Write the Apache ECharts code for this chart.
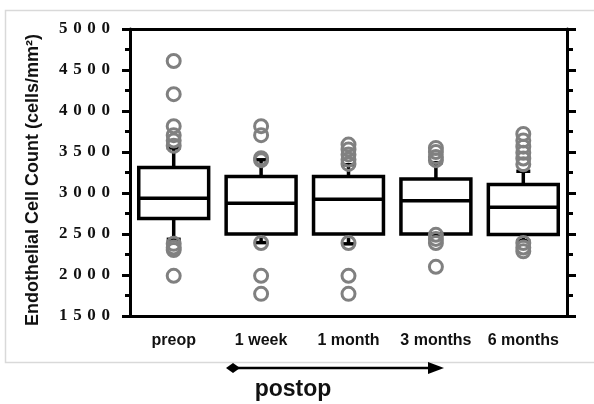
<!DOCTYPE html>
<html>
<head>
<meta charset="utf-8">
<script src="https://cdn.jsdelivr.net/npm/echarts@6/dist/echarts.min.js"></script>
<style>
  html, body { margin: 0; padding: 0; background: #fff; }
  #chart { width: 594px; height: 404px; }
</style>
</head>
<body>
<div id="chart"></div>
<script>
// Time points of the follow-up
const categories = ['preop', '1 week', '1 month', '3 months', '6 months'];

// Box-and-whisker summary per time point (cells/mm²)
const lowerWhisker = [2435, 2395, 2380, 2500, 2420];
const q1 = [2690, 2500, 2500, 2500, 2495];
const median = [2935, 2875, 2925, 2905, 2825];
const q3 = [3310, 3200, 3200, 3170, 3105];
const upperWhisker = [3550, 3405, 3345, 3370, 3265];

// Individual outlying measurements per time point
const outliersPreop = [4610, 4205, 3815, 3705, 3640, 3575, 2380, 2335, 2305, 1990];
const outliers1Week = [3815, 3705, 3425, 3400, 2390, 1990, 1770];
const outliers1Month = [3590, 3530, 3470, 3410, 3355, 2390, 1990, 1770];
const outliers3Months = [3550, 3500, 3440, 3400, 2490, 2440, 2390, 2100];
const outliers6Months = [3720, 3640, 3565, 3490, 3420, 3350, 2390, 2335, 2290];

// Value axis ticks
const yMin = 1500;
const yMax = 5000;
const yStep = 500;

const outlierSets = [outliersPreop, outliers1Week, outliers1Month, outliers3Months, outliers6Months];

const boxData = categories.map((c, i) => [i, lowerWhisker[i], q1[i], median[i], q3[i], upperWhisker[i]]);
const outlierData = [];
outlierSets.forEach((set, i) => set.forEach(v => outlierData.push([i, v])));

// Tick numbers are set with wide letter spacing
const spaced = v => String(v).split('').join('\u2004');

const chart = echarts.init(document.getElementById('chart'), null, { renderer: 'canvas' });

const lineStyle = { stroke: '#000', lineWidth: 3.5 };

chart.setOption({
  animation: false,
  backgroundColor: '#fff',
  grid: { left: 130, right: 27, top: 29, bottom: 88 },
  xAxis: [
    {
      type: 'category',
      data: categories,
      position: 'bottom',
      axisLine: { lineStyle: { color: '#000', width: 3 } },
      axisTick: { alignWithLabel: true, length: 5, lineStyle: { color: '#000', width: 3 } },
      axisLabel: { interval: 0, color: '#111', fontFamily: 'Liberation Sans, Arial, sans-serif', fontWeight: 'bold', fontSize: 16, margin: 17 },
      splitLine: { show: false }
    },
    {
      type: 'category',
      data: categories,
      position: 'top',
      axisLine: { lineStyle: { color: '#000', width: 3 } },
      axisTick: { alignWithLabel: true, length: 5, lineStyle: { color: '#000', width: 3 } },
      axisLabel: { show: false },
      splitLine: { show: false }
    }
  ],
  yAxis: [
    {
      type: 'value',
      min: yMin, max: yMax, interval: yStep,
      position: 'left',
      name: 'Endothelial Cell Count (cells/mm²)',
      nameLocation: 'middle',
      nameGap: 88,
      nameTextStyle: { color: '#111', fontFamily: 'Liberation Sans, Arial, sans-serif', fontWeight: 'bold', fontSize: 18, padding: [0, 15, 0, 0] },
      axisLine: { show: true, lineStyle: { color: '#000', width: 3 } },
      axisTick: { show: true, length: 8, lineStyle: { color: '#000', width: 3 } },
      minorTick: { show: true, splitNumber: 2, length: 5, lineStyle: { color: '#000', width: 3 } },
      axisLabel: { formatter: spaced, color: '#111', fontFamily: 'Liberation Serif, Times New Roman, serif', fontWeight: 'bold', fontSize: 17, margin: 20 },
      splitLine: { show: false }
    },
    {
      type: 'value',
      min: yMin, max: yMax, interval: yStep,
      position: 'right',
      axisLine: { show: true, lineStyle: { color: '#000', width: 3 } },
      axisTick: { show: true, length: 9, lineStyle: { color: '#000', width: 3 } },
      minorTick: { show: true, splitNumber: 2, length: 6, lineStyle: { color: '#000', width: 3 } },
      axisLabel: { show: false },
      splitLine: { show: false }
    }
  ],
  series: [
    {
      type: 'custom',
      xAxisIndex: 0,
      yAxisIndex: 0,
      data: boxData,
      z: 2,
      renderItem(params, api) {
        const i = api.value(0);
        const lo = api.coord([i, api.value(1)]);
        const b1 = api.coord([i, api.value(2)]);
        const md = api.coord([i, api.value(3)]);
        const b3 = api.coord([i, api.value(4)]);
        const hi = api.coord([i, api.value(5)]);
        const bw = api.size([1, 0])[0] * 0.8;
        const cw = 14;
        const x = md[0];
        return {
          type: 'group',
          children: [
            { type: 'line', shape: { x1: x, y1: lo[1], x2: x, y2: b1[1] }, style: lineStyle },
            { type: 'line', shape: { x1: x, y1: b3[1], x2: x, y2: hi[1] }, style: lineStyle },
            { type: 'line', shape: { x1: x - cw / 2, y1: lo[1], x2: x + cw / 2, y2: lo[1] }, style: lineStyle },
            { type: 'line', shape: { x1: x - cw / 2, y1: hi[1], x2: x + cw / 2, y2: hi[1] }, style: lineStyle },
            { type: 'rect', shape: { x: x - bw / 2, y: b3[1], width: bw, height: b1[1] - b3[1] }, style: { fill: '#fff', stroke: '#000', lineWidth: 3.5 } },
            { type: 'line', shape: { x1: x - bw / 2, y1: md[1], x2: x + bw / 2, y2: md[1] }, style: { stroke: '#000', lineWidth: 3.5 } }
          ]
        };
      }
    },
    {
      type: 'scatter',
      xAxisIndex: 0,
      yAxisIndex: 0,
      data: outlierData,
      z: 3,
      symbol: 'circle',
      symbolSize: 13,
      itemStyle: { color: 'rgba(0,0,0,0)', borderColor: '#808080', borderWidth: 3, opacity: 1 },
      emphasis: { disabled: true }
    }
  ],
  graphic: [
    { type: 'rect', shape: { x: 5.5, y: 10.5, width: 620, height: 352 }, style: { fill: 'none', stroke: '#d9d9d9', lineWidth: 1.5 }, z: -1 },
    { type: 'line', shape: { x1: 234, y1: 368, x2: 432, y2: 368 }, style: { stroke: '#000', lineWidth: 2.5 } },
    { type: 'polygon', shape: { points: [[226, 368], [233, 363], [240, 368], [233, 373]] }, style: { fill: '#000' } },
    { type: 'polygon', shape: { points: [[444, 368], [428, 362], [428, 374]] }, style: { fill: '#000' } },
    { type: 'text', style: { text: 'postop', x: 293, y: 390, fill: '#111', font: 'bold 23px "Liberation Sans", Arial, sans-serif', align: 'center', verticalAlign: 'middle' } }
  ]
});
</script>
</body>
</html>
